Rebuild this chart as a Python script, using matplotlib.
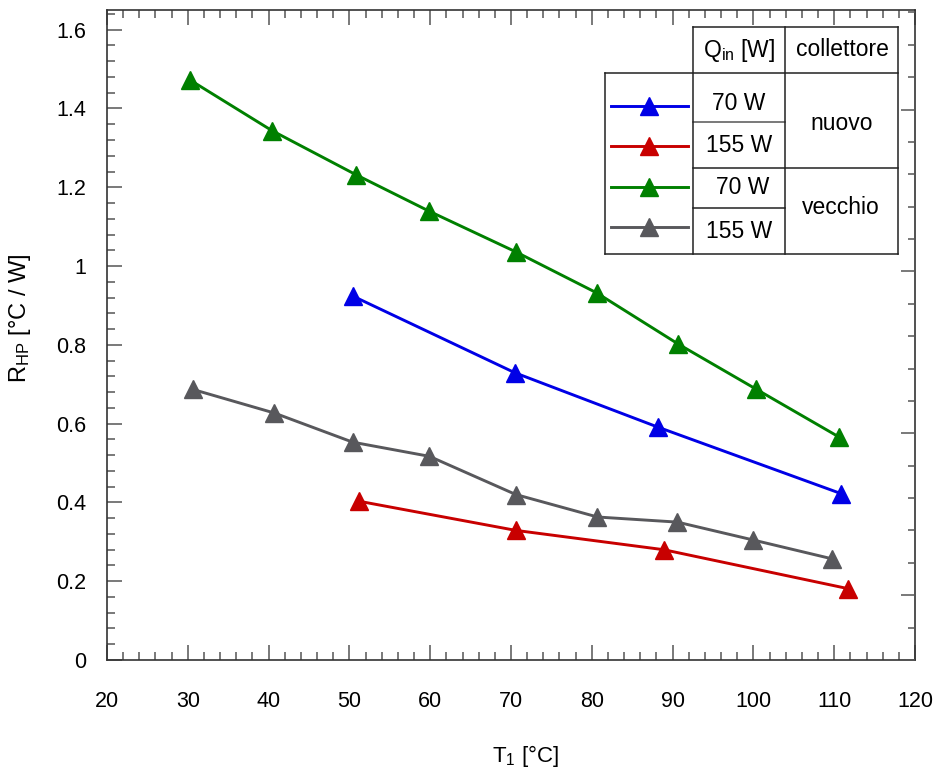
import matplotlib
matplotlib.use("Agg")
import matplotlib.pyplot as plt
from matplotlib.ticker import MultipleLocator, FormatStrFormatter

plt.rcParams["font.family"] = ["Liberation Sans", "DejaVu Sans"]
plt.rcParams["mathtext.fontset"] = "custom"
plt.rcParams["mathtext.rm"] = "Liberation Sans"
plt.rcParams["mathtext.it"] = "Liberation Sans:italic"

# nuovo collettore
t_new_70 = [50.4, 70.5, 88.2, 110.9]
r_new_70 = [0.924, 0.729, 0.591, 0.422]
t_new_155 = [51.2, 70.6, 88.9, 111.75]
r_new_155 = [0.403, 0.329, 0.280, 0.181]
# vecchio collettore
t_old_70 = [30.3, 40.4, 50.8, 59.9, 70.6, 80.6, 90.7, 100.3, 110.6]
r_old_70 = [1.472, 1.344, 1.232, 1.139, 1.036, 0.932, 0.802, 0.688, 0.566]
t_old_155 = [30.6, 40.7, 50.4, 59.9, 70.6, 80.7, 90.6, 99.9, 109.7]
r_old_155 = [0.687, 0.627, 0.553, 0.517, 0.420, 0.363, 0.350, 0.305, 0.257]

BLUE, RED, GREEN, GRAY = "#0000e6", "#c80000", "#008000", "#58585c"

W, H = 936, 776
fig = plt.figure(figsize=(W / 100, H / 100), dpi=100)
ax = fig.add_axes([107 / W, 1 - 660 / H, 808 / W, 650 / H])

series = [(t_new_70, r_new_70, BLUE), (t_new_155, r_new_155, RED),
          (t_old_70, r_old_70, GREEN), (t_old_155, r_old_155, GRAY)]
for t, r, c in series:
    ax.plot(t, r, color=c, lw=2.1, marker="^", ms=13, mec=c, clip_on=False)

ax.set_xlim(20, 120)
ax.set_ylim(0, 1.65)
ax.xaxis.set_major_locator(MultipleLocator(10))
ax.xaxis.set_minor_locator(MultipleLocator(2))
ax.yaxis.set_major_locator(MultipleLocator(0.2))
ax.yaxis.set_minor_locator(MultipleLocator(0.04))
ax.yaxis.set_major_formatter(FormatStrFormatter("%g"))
ax.tick_params(which="both", direction="in", top=True, right=False,
               color="#555555", width=1.1, labelsize=15.5)
ax.tick_params(which="major", length=11)
ax.tick_params(which="minor", length=5.5)
ax.tick_params(axis="x", pad=22)
ax.tick_params(axis="y", pad=15)
for s in ax.spines.values():
    s.set_color("#333333")
    s.set_linewidth(1.2)

# right axis has its own tick spacing
ax2 = ax.twinx()
ax2.set_ylim(-0.4, 3.615)
ax2.yaxis.set_major_locator(MultipleLocator(1))
ax2.yaxis.set_minor_locator(MultipleLocator(0.2))
ax2.tick_params(which="both", direction="in", labelright=False,
                color="#555555", width=1.1)
ax2.tick_params(which="major", length=10)
ax2.tick_params(which="minor", length=5)
for s in ax2.spines.values():
    s.set_visible(False)

ax.text((20 - 107) / 808, (660 - 318) / 650, r"R$_{\mathrm{HP}}$ [°C / W]",
        rotation=90, ha="center", va="center", fontsize=17, transform=ax.transAxes)
ax.text((526 - 107) / 808, (660 - 756) / 650, r"T$_{\mathrm{1}}$ [°C]",
        ha="center", va="center", fontsize=16, transform=ax.transAxes)


# legend table, positioned in figure pixels
def fx(px):
    return px / W


def fy(py):
    return 1 - py / H


def hline(y, x0, x1, c="#222222"):
    fig.add_artist(plt.Line2D([fx(x0), fx(x1)], [fy(y), fy(y)], color=c, lw=1.1))


def vline(x, y0, y1, c="#222222"):
    fig.add_artist(plt.Line2D([fx(x), fx(x)], [fy(y0), fy(y1)], color=c, lw=1.1))


hline(27, 693, 898)
hline(73, 605, 898)
hline(122, 693, 785, "#555555")
hline(168, 693, 898)
hline(208, 693, 785)
hline(254, 605, 898)
vline(605, 73, 254)
vline(693, 27, 254)
vline(785, 27, 254)
vline(898, 27, 254)

for yrow, (_, _, c) in zip([106, 146, 187, 227], series):
    fig.add_artist(plt.Line2D([fx(611), fx(688)], [fy(yrow), fy(yrow)],
                              color=c, lw=2.1))
    fig.add_artist(plt.Line2D([fx(649)], [fy(yrow)], color=c, marker="^",
                              ms=13, mec=c))

cells = [(739, 50, r"Q$_{\mathrm{in}}$ [W]"), (842, 50, "collettore"),
         (739, 104, "70 W"), (739, 146, "155 W"), (743, 187, "70 W"),
         (739, 231, "155 W"), (842, 123, "nuovo"), (841, 208, "vecchio")]
for x, y, s in cells:
    fig.text(fx(x), fy(y), s, ha="center", va="center", fontsize=16.5)

fig.savefig("out.png", dpi=100)
